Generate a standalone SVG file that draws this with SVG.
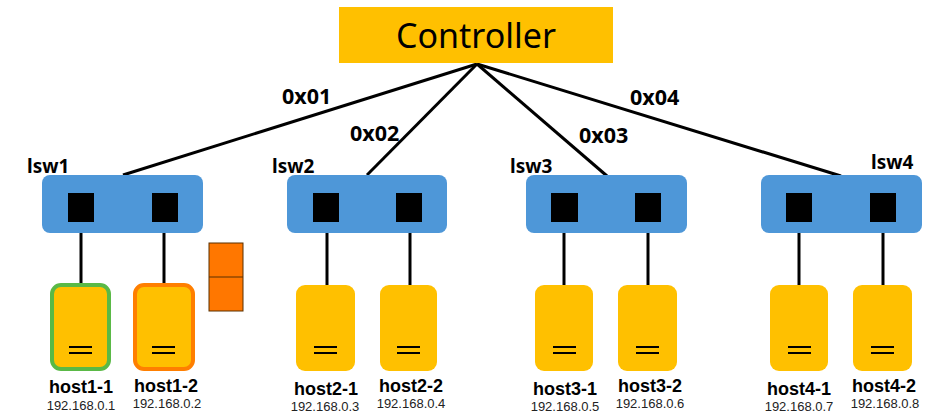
<svg xmlns="http://www.w3.org/2000/svg" width="930" height="419" viewBox="0 0 930 419">
<style>
.sw{fill:#4e97d8}
.port{fill:#000}
.host{fill:#ffc000}
.eq{stroke:#000;stroke-width:2}
.wire{stroke:#000;stroke-width:3;fill:none}
.lbl{font-family:"Noto Sans","Noto Sans CJK JP",sans-serif;font-weight:bold;fill:#000}
.hn{font-family:"Liberation Sans",Arial,sans-serif;font-weight:bold;font-size:18px;text-anchor:middle;fill:#000}
.ip{font-family:"Liberation Sans",Arial,sans-serif;font-size:13px;text-anchor:middle;fill:#222}
</style>
<rect width="930" height="419" fill="#fff"/>
<g id="connectors">
<line class="wire" x1="477" y1="64" x2="123" y2="175"/>
<line class="wire" x1="477" y1="64" x2="367" y2="175"/>
<line class="wire" x1="477" y1="64" x2="607" y2="176"/>
<line class="wire" x1="477" y1="64" x2="841" y2="176"/>
<line class="wire" x1="81" y1="222" x2="81" y2="285"/>
<line class="wire" x1="164" y1="222" x2="164" y2="285"/>
<line class="wire" x1="327" y1="222" x2="327" y2="285"/>
<line class="wire" x1="410" y1="222" x2="410" y2="285"/>
<line class="wire" x1="564" y1="222" x2="564" y2="285"/>
<line class="wire" x1="648" y1="222" x2="648" y2="285"/>
<line class="wire" x1="799" y1="222" x2="799" y2="285"/>
<line class="wire" x1="883" y1="222" x2="883" y2="285"/>
<text class="lbl" x="282" y="104" font-size="21.5">0x01</text>
<text class="lbl" x="350" y="141" font-size="21.5">0x02</text>
<text class="lbl" x="579" y="143" font-size="21.5">0x03</text>
<text class="lbl" x="630" y="105" font-size="21.5">0x04</text>
</g>
<g id="controller">
<rect x="339" y="7" width="274" height="56" fill="#ffc000"/>
<text x="476" y="48" font-family="'Noto Sans','Noto Sans CJK JP',sans-serif" font-size="34" text-anchor="middle" fill="#000">Controller</text>
</g>
<g id="lsw1">
<rect class="sw" x="42" y="175" width="161" height="58" rx="8"/>
<rect class="port" x="68" y="193" width="26" height="29"/>
<rect class="port" x="152" y="193" width="26" height="29"/>
<text class="lbl" x="27" y="173" font-size="19">lsw1</text>
</g>
<g id="lsw2">
<rect class="sw" x="287" y="175" width="160" height="58" rx="8"/>
<rect class="port" x="313" y="193" width="26" height="29"/>
<rect class="port" x="396" y="193" width="26" height="29"/>
<text class="lbl" x="272" y="173" font-size="19">lsw2</text>
</g>
<g id="lsw3">
<rect class="sw" x="526" y="175" width="161" height="58" rx="8"/>
<rect class="port" x="551" y="193" width="27" height="29"/>
<rect class="port" x="635" y="193" width="26" height="29"/>
<text class="lbl" x="510" y="173" font-size="19">lsw3</text>
</g>
<g id="lsw4">
<rect class="sw" x="761" y="175" width="161" height="58" rx="8"/>
<rect class="port" x="786" y="193" width="26" height="29"/>
<rect class="port" x="870" y="193" width="26" height="29"/>
<text class="lbl" x="871" y="169" font-size="19">lsw4</text>
</g>
<g id="host1-1">
<rect class="host" x="52" y="285" width="57" height="84" rx="9" stroke="#5ab946" stroke-width="4"/>
<line class="eq" x1="69" y1="347" x2="92" y2="347"/><line class="eq" x1="69" y1="353" x2="92" y2="353"/>
<text class="hn" x="81" y="393">host1-1</text>
<text class="ip" x="81" y="410">192.168.0.1</text>
</g>
<g id="host1-2">
<rect class="host" x="135" y="285" width="58" height="84" rx="9" stroke="#ff7f00" stroke-width="4"/>
<line class="eq" x1="152" y1="347" x2="175" y2="347"/><line class="eq" x1="152" y1="353" x2="175" y2="353"/>
<text class="hn" x="166" y="392">host1-2</text>
<text class="ip" x="167" y="408">192.168.0.2</text>
</g>
<g id="packet">
<rect x="209" y="243" width="34" height="68" fill="#ff7700" stroke="#5a3000" stroke-width="1"/>
<line x1="209" y1="277" x2="243" y2="277" stroke="#5a3000" stroke-width="1"/>
</g>
<g id="host2-1">
<rect class="host" x="296" y="285" width="59" height="86" rx="9"/>
<line class="eq" x1="314" y1="347" x2="337" y2="347"/><line class="eq" x1="314" y1="353" x2="337" y2="353"/>
<text class="hn" x="326" y="395">host2-1</text>
<text class="ip" x="325" y="411">192.168.0.3</text>
</g>
<g id="host2-2">
<rect class="host" x="380" y="285" width="57" height="86" rx="9"/>
<line class="eq" x1="397" y1="347" x2="420" y2="347"/><line class="eq" x1="397" y1="353" x2="420" y2="353"/>
<text class="hn" x="411" y="392">host2-2</text>
<text class="ip" x="411" y="408">192.168.0.4</text>
</g>
<g id="host3-1">
<rect class="host" x="535" y="285" width="58" height="86" rx="9"/>
<line class="eq" x1="553" y1="347" x2="576" y2="347"/><line class="eq" x1="553" y1="353" x2="576" y2="353"/>
<text class="hn" x="565" y="395">host3-1</text>
<text class="ip" x="565" y="411">192.168.0.5</text>
</g>
<g id="host3-2">
<rect class="host" x="618" y="285" width="59" height="86" rx="9"/>
<line class="eq" x1="636" y1="347" x2="659" y2="347"/><line class="eq" x1="636" y1="353" x2="659" y2="353"/>
<text class="hn" x="650" y="392">host3-2</text>
<text class="ip" x="650" y="408">192.168.0.6</text>
</g>
<g id="host4-1">
<rect class="host" x="770" y="285" width="58" height="86" rx="9"/>
<line class="eq" x1="788" y1="347" x2="811" y2="347"/><line class="eq" x1="788" y1="353" x2="811" y2="353"/>
<text class="hn" x="799" y="395">host4-1</text>
<text class="ip" x="799" y="411">192.168.0.7</text>
</g>
<g id="host4-2">
<rect class="host" x="853" y="285" width="59" height="86" rx="9"/>
<line class="eq" x1="871" y1="347" x2="894" y2="347"/><line class="eq" x1="871" y1="353" x2="894" y2="353"/>
<text class="hn" x="884" y="392">host4-2</text>
<text class="ip" x="885" y="408">192.168.0.8</text>
</g>
</svg>
